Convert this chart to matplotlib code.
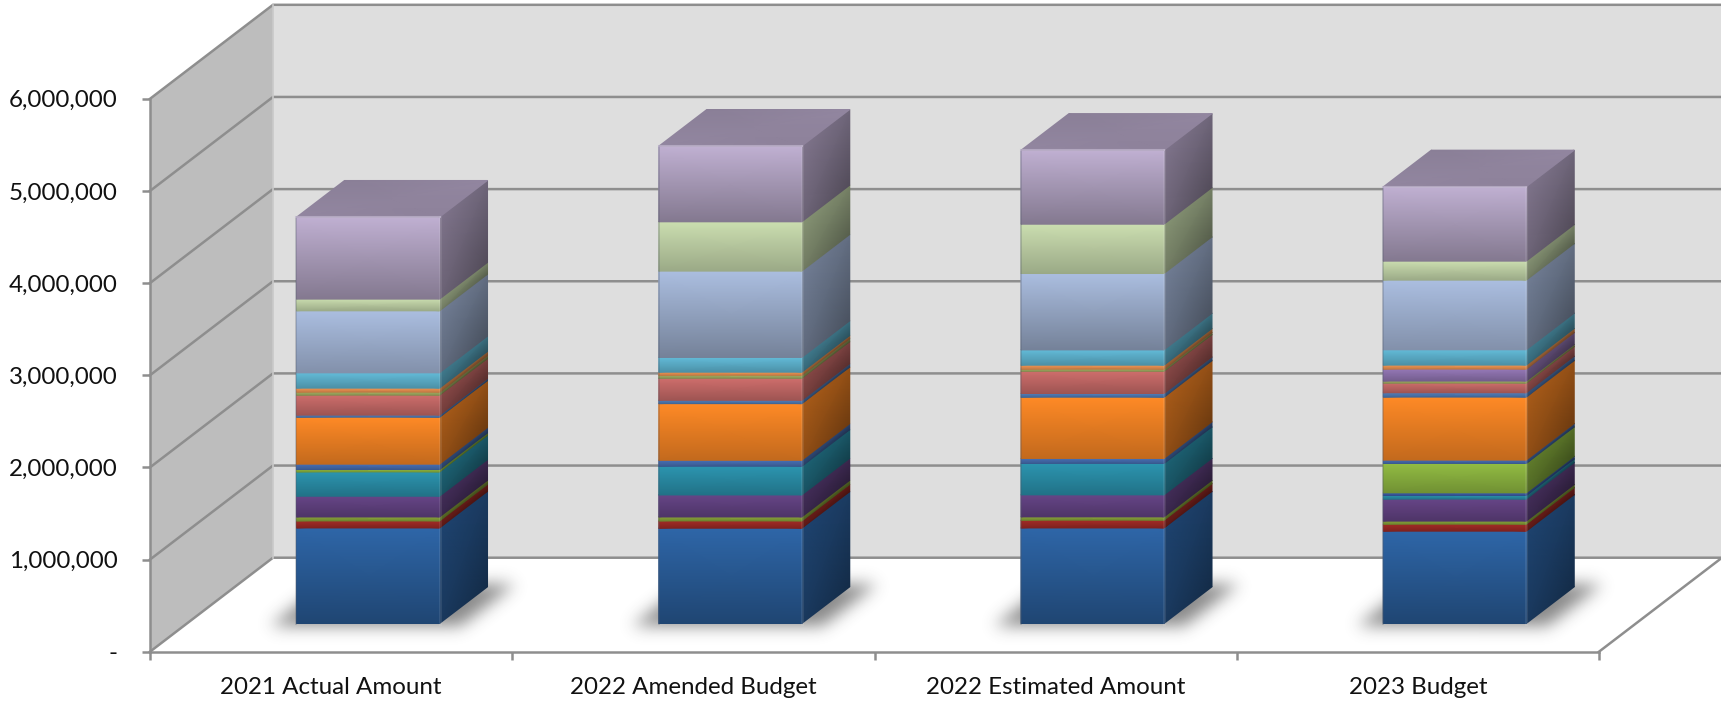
#!/usr/bin/env python
"""Stacked 3-D style budget columns, drawn by hand on a flat axes with an oblique projection."""
import numpy as np
import matplotlib
matplotlib.use("Agg")
import matplotlib.pyplot as plt
from matplotlib.colors import to_rgb
from matplotlib.patches import Polygon

CATEGORIES = ["2021 Actual Amount", "2022 Amended Budget", "2022 Estimated Amount", "2023 Budget"]
YTICKS = [0, 1000000, 2000000, 3000000, 4000000, 5000000, 6000000]
YTICK_LABELS = ["-", "1,000,000", "2,000,000", "3,000,000", "4,000,000", "5,000,000", "6,000,000"]

# stacked bottom to top, one value per category (thousands)
S01 = [1037, 1034, 1037, 1002]
S02 = [76, 79, 84, 76]
S03 = [43, 43, 36, 33]
S04 = [225, 239, 239, 239]
S05 = [264, 311, 341, 40]
S06 = [0, 0, 0, 28]
S07 = [26, 0, 0, 319]
S08 = [58, 65, 54, 36]
S09 = [510, 615, 665, 684]
S10 = [22, 36, 40, 47]
S11 = [217, 239, 242, 105]
S12 = [33, 33, 22, 22]
S13 = [0, 0, 0, 130]
S14 = [43, 33, 43, 43]
S15 = [166, 160, 166, 166]
S16 = [673, 937, 829, 756]
S17 = [127, 535, 535, 206]
S18 = [890, 821, 803, 807]
SERIES = [S01, S02, S03, S04, S05, S06, S07, S08, S09, S10, S11, S12, S13, S14, S15, S16, S17, S18]
COLORS = ["#2E66A8", "#A52C27", "#8DA93C", "#664587", "#2C95B0", "#3F62B0", "#93BD43", "#4A72B8",
          "#FF8A26", "#5482C0", "#CF6E6C", "#A9B566", "#9679B8", "#F79A55", "#63BCD9", "#ABBEE0",
          "#CBDEB0", "#C0B0D2"]

GRID = "#8E8E8E"
WALL_BACK = "#DEDEDE"
WALL_LEFT = "#BDBDBD"

# oblique projection: one unit of depth moves this far in data units
DEPTH_X = 0.3395
DEPTH_Y = 1020000
BAR_W = 0.395
BAR_D0 = 0.30
BAR_D1 = 0.69


def project(x, v, d):
    return x + DEPTH_X * d, v + DEPTH_Y * d


def shade(color, k):
    return np.clip(np.array(to_rgb(color)) * k, 0, 1)


def face(ax, x, v, d, c, z):
    """Gouraud-shaded quad; corners are given as 2x2 arrays, c is 2x2x3."""
    px, py = project(np.array(x, float), np.array(v, float), np.array(d, float))
    m = ax.pcolormesh(px, py, np.array(c), shading="gouraud", zorder=z)
    m.set_clip_on(False)


def wall(ax, pts, color, z=1):
    xy = [project(*p) for p in pts]
    ax.add_patch(Polygon(xy, closed=True, fc=color, ec="none", zorder=z, clip_on=False))


def draw_shadow(ax, x0, x1, z):
    # footprint on the floor, widened a little and blurred
    xs = np.arange(x0 - 0.30, x1 + 0.70, 1 / 362)
    vs = np.arange(-150000, 1200000, 1000000 / 92.15)
    gx, gv = np.meshgrid(xs, vs)
    d = gv / DEPTH_Y
    m = 0.065
    u = gx - DEPTH_X * d
    mask = ((d > BAR_D0 - 0.03) & (d < BAR_D1 + 0.03) & (u > x0 - m) & (u < x1 + m)).astype(float)
    k = np.exp(-0.5 * (np.arange(-24, 25) / 8.0) ** 2)
    k /= k.sum()
    mask = np.apply_along_axis(lambda r: np.convolve(r, k, mode="same"), 1, mask)
    mask = np.apply_along_axis(lambda r: np.convolve(r, k, mode="same"), 0, mask)
    rgba = np.zeros(mask.shape + (4,))
    rgba[..., :3] = 0.2
    rgba[..., 3] = mask * 0.58
    im = ax.imshow(rgba, extent=(xs[0], xs[-1], vs[0], vs[-1]), origin="lower", aspect="auto",
                   interpolation="bilinear", zorder=z)
    im.set_clip_on(False)


def draw_bar(ax, i, z):
    x0 = i + 0.5 - BAR_W / 2
    x1 = i + 0.5 + BAR_W / 2
    draw_shadow(ax, x0, x1, 3 + 0.01 * i)
    base = 0.0
    for vals, col in zip(SERIES, COLORS):
        h = vals[i] * 1000.0
        if h <= 0:
            continue
        top = base + h
        # side face first so the front overlaps it
        face(ax, [[x1, x1], [x1, x1]], [[base, base], [top, top]], [[BAR_D0, BAR_D1], [BAR_D0, BAR_D1]],
             [[shade(col, 0.56), shade(col, 0.43)], [shade(col, 0.66), shade(col, 0.58)]], z)
        fade = 0.68 if h > 800000 else 0.76
        face(ax, [[x0, x1], [x0, x1]], [[base, base], [top, top]], [[BAR_D0, BAR_D0], [BAR_D0, BAR_D0]],
             [[shade(col, fade), shade(col, fade)], [shade(col, 1.0), shade(col, 1.0)]], z + 0.1)
        base = top
    # lid
    col = COLORS[-1]
    face(ax, [[x0, x1], [x0, x1]], [[base, base], [base, base]], [[BAR_D0, BAR_D0], [BAR_D1, BAR_D1]],
         [[shade(col, 0.76), shade(col, 0.74)], [shade(col, 0.72), shade(col, 0.76)]], z + 0.2)
    # soft bevel along the front corners and the lid edge
    fx0, fb = project(x0, 0, BAR_D0)
    fx1, ft = project(x1, base, BAR_D0)
    ax.plot([fx1, fx1], [fb, ft], color="white", alpha=0.10, lw=2.0, zorder=z + 0.3, clip_on=False)
    ax.plot([fx0, fx0], [fb, ft], color="#505868", alpha=0.30, lw=1.2, zorder=z + 0.3, clip_on=False)
    ax.plot([fx0, fx1], [ft, ft], color="#CFC4DC", alpha=0.55, lw=1.5, zorder=z + 0.3, clip_on=False)


def main():
    plt.rcParams["font.family"] = ["Lato", "DejaVu Sans"]
    fig = plt.figure(figsize=(17.21, 7.01), dpi=100, facecolor="white")
    ax = fig.add_axes([150 / 1721, 49.3 / 701, 1449 / 1721, 552.9 / 701])
    ax.patch.set_alpha(0)
    n = len(CATEGORIES)
    vmax = YTICKS[-1]

    wall(ax, [(0, 0, 0), (0, vmax, 0), (0, vmax, 1), (0, 0, 1)], WALL_LEFT)
    wall(ax, [(0, 0, 1), (0, vmax, 1), (n, vmax, 1), (n, 0, 1)], WALL_BACK)

    for v in YTICKS:
        xs, ys = zip(project(0, v, 0), project(0, v, 1), project(n, v, 1))
        ax.plot(xs, ys, color=GRID, lw=1.8, zorder=2, clip_on=False, solid_joinstyle="miter")
    xs, ys = zip(project(n, 0, 0), project(n, 0, 1))
    ax.plot(xs, ys, color=GRID, lw=1.8, zorder=2, clip_on=False)
    xs, ys = zip(project(0, 0, 1), project(0, vmax, 1))
    ax.plot(xs, ys, color="#C9C9C9", lw=1.2, zorder=2, clip_on=False)

    for i in range(n):
        draw_bar(ax, i, 4 + i)

    ax.set_xlim(0, n)
    ax.set_ylim(0, vmax)
    ax.set_yticks(YTICKS)
    ax.set_yticklabels(YTICK_LABELS)
    ax.set_xticks(np.arange(n + 1))
    ax.set_xticklabels([])
    ax.set_xticks(np.arange(n) + 0.5, labels=CATEGORIES, minor=True)
    ax.tick_params(axis="x", which="major", length=6, width=1.8, color=GRID)
    ax.tick_params(axis="x", which="minor", length=0, pad=18, labelsize=17.4, labelcolor="#111111")
    ax.tick_params(axis="y", length=6, width=1.8, color=GRID, pad=17.5, labelsize=17.4, labelcolor="#111111")
    for side in ("top", "right"):
        ax.spines[side].set_visible(False)
    for side in ("left", "bottom"):
        ax.spines[side].set_color(GRID)
        ax.spines[side].set_linewidth(1.8)
        ax.spines[side].set_zorder(20)

    fig.savefig("out.png", dpi=100)


if __name__ == "__main__":
    main()
